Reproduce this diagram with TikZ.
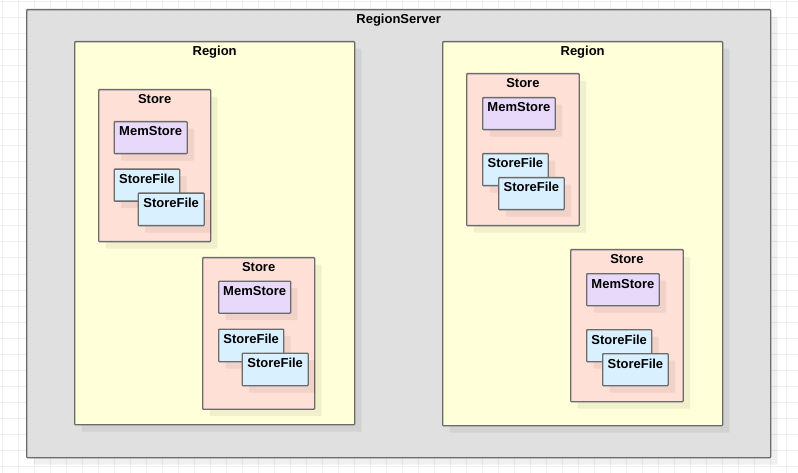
\documentclass[tikz,border=0pt]{standalone}
\usepackage{fontspec}
\setmainfont{Liberation Sans}
\usetikzlibrary{shadows}
\definecolor{bordc}{HTML}{6B6B6B}
\definecolor{rsfill}{HTML}{E0E0E0}
\definecolor{regfill}{HTML}{FFFFD9}
\definecolor{stfill}{HTML}{FFE0D6}
\definecolor{msfill}{HTML}{E8D8FA}
\definecolor{sffill}{HTML}{D8F0FF}
\definecolor{gridc}{HTML}{F0F0F0}
\tikzset{
  boxstyle/.style={draw=bordc, line width=1.3pt, rounded corners=0.8pt, anchor=north west, inner sep=0pt,
    drop shadow={shadow xshift=7pt, shadow yshift=-7pt, opacity=0.06, fill=black}},
  lbl/.style={anchor=base, font=\bfseries\fontsize{13}{15}\selectfont, inner sep=0pt}
}
\newcommand\mkbox[7]{%
  \node[boxstyle, fill=#6, minimum width=#4pt-#2pt, minimum height=#5pt-#3pt] (#1) at (#2,#3) {};
  \node[lbl] (#1-t) at ([yshift=-15pt]#1.north) {#7};
}
\begin{document}
\begin{tikzpicture}[x=1pt,y=-1pt]
\useasboundingbox (0,0) rectangle (798,473);
\fill[white] (0,0) rectangle (798,473);
\foreach \k in {0,...,49} {
  \draw[gridc, line width=1pt] (2+16*\k,0) -- (2+16*\k,473);
  \draw[gridc, line width=1pt] (0,2+16*\k) -- (798,2+16*\k);
}
\mkbox{rs}{26}{9}{770}{457}{rsfill}{RegionServer}
% left region
\mkbox{rA}{74}{41}{354}{424}{regfill}{Region}
\mkbox{sA1}{98}{89}{210}{241}{stfill}{Store}
\mkbox{mA1}{113.5}{121}{186.5}{153}{msfill}{MemStore}
\mkbox{fA1a}{113.5}{168.5}{179}{200.5}{sffill}{StoreFile}
\mkbox{fA1b}{137.5}{192.5}{203.5}{225}{sffill}{StoreFile}
\mkbox{sA2}{202}{257}{314}{408.5}{stfill}{Store}
\mkbox{mA2}{218}{280.5}{290}{312.5}{msfill}{MemStore}
\mkbox{fA2a}{218}{328.5}{283}{361}{sffill}{StoreFile}
\mkbox{fA2b}{241.5}{352.5}{307.5}{385}{sffill}{StoreFile}
% right region
\mkbox{rB}{442}{41}{722}{425}{regfill}{Region}
\mkbox{sB1}{466}{73}{578.5}{225}{stfill}{Store}
\mkbox{mB1}{482}{97}{554.5}{129}{msfill}{MemStore}
\mkbox{fB1a}{482}{153}{547.5}{185}{sffill}{StoreFile}
\mkbox{fB1b}{498}{177}{563.5}{209}{sffill}{StoreFile}
\mkbox{sB2}{570}{249}{682.5}{401}{stfill}{Store}
\mkbox{mB2}{586}{273}{658.5}{305}{msfill}{MemStore}
\mkbox{fB2a}{586}{329}{651}{361}{sffill}{StoreFile}
\mkbox{fB2b}{602}{353}{667.5}{385}{sffill}{StoreFile}
\end{tikzpicture}
\end{document}
